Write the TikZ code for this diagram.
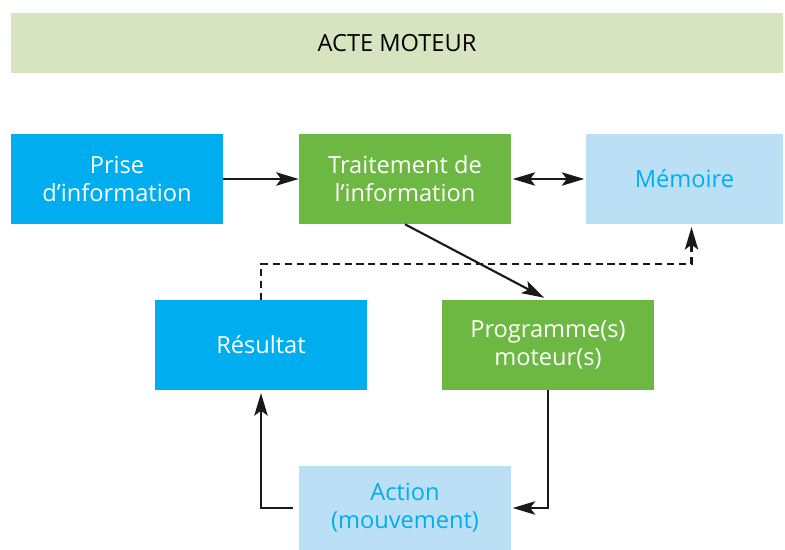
\documentclass[tikz,border=0pt]{standalone}
\usepackage{fontspec}
\setmainfont{Open Sans}
\usepackage{xcolor}
\usepackage{tikz}
\usetikzlibrary{arrows.meta}

\definecolor{bleu}{HTML}{00AEEF}
\definecolor{vert}{HTML}{6DB843}
\definecolor{bleuclair}{HTML}{BBE0F6}
\definecolor{vertclair}{HTML}{D6E5C0}

\tikzset{
	boite/.style={minimum width=5.3cm, minimum height=2.25cm, inner sep=0pt, align=center, font=\fontsize{16.8}{20}\selectfont},
	bleubox/.style={boite, fill=bleu, text=white},
	vertbox/.style={boite, fill=vert, text=white},
	clairbox/.style={boite, fill=bleuclair, text=bleu},
	fleche/.style={line width=1.5pt, draw=black!90, -{Stealth[length=16pt, width=9.5pt, inset=3.5pt]}},
	double fleche/.style={line width=1.5pt, draw=black!90, {Stealth[length=16pt, width=9.5pt, inset=3.5pt]}-{Stealth[length=16pt, width=9.5pt, inset=3.5pt]}},
}

\begin{document}
\begin{tikzpicture}[x=0.025cm, y=-0.025cm]
		\useasboundingbox (0,0) rectangle (785,550);
		% bandeau du haut
		\node[fill=vertclair, minimum width=19.3cm, minimum height=1.5cm, inner sep=0pt,
			font=\fontsize{16.8}{20}\selectfont, text=black] (titre) at (397,43) {ACTE MOTEUR};
		% les six blocs
		\node[bleubox] (prise) at (117,179) {Prise\\d’information};
		\node[vertbox] (traitement) at (405,179) {Traitement de\\l’information};
		\node[clairbox, minimum width=4.925cm] (memoire) at (684.5,179) {Mémoire};
		\node[bleubox] (resultat) at (261,345) {Résultat};
		\node[vertbox] (programme) at (548,345) {Programme(s)\\moteur(s)};
		\node[clairbox, minimum height=2.1cm] (action) at (405,508) {Action\\(mouvement)};
		% fleches
		\draw[fleche] (prise) -- (traitement);
		\draw[double fleche, shorten <=1pt, shorten >=1pt] (traitement) -- (memoire);
		\draw[fleche, shorten >=3pt] (traitement.south) -- (programme.north);
		\draw[fleche, dashed, dash pattern=on 5pt off 3.5pt] (resultat.north) -- ++(0,-36) -| ([xshift=5pt, yshift=-2pt]memoire.south);
		\draw[fleche, shorten >=1pt] (programme.south) |- (action.east);
		\draw[fleche, shorten <=4pt, shorten >=2pt] (action.west) -| (resultat.south);
		\end{tikzpicture}
\end{document}
